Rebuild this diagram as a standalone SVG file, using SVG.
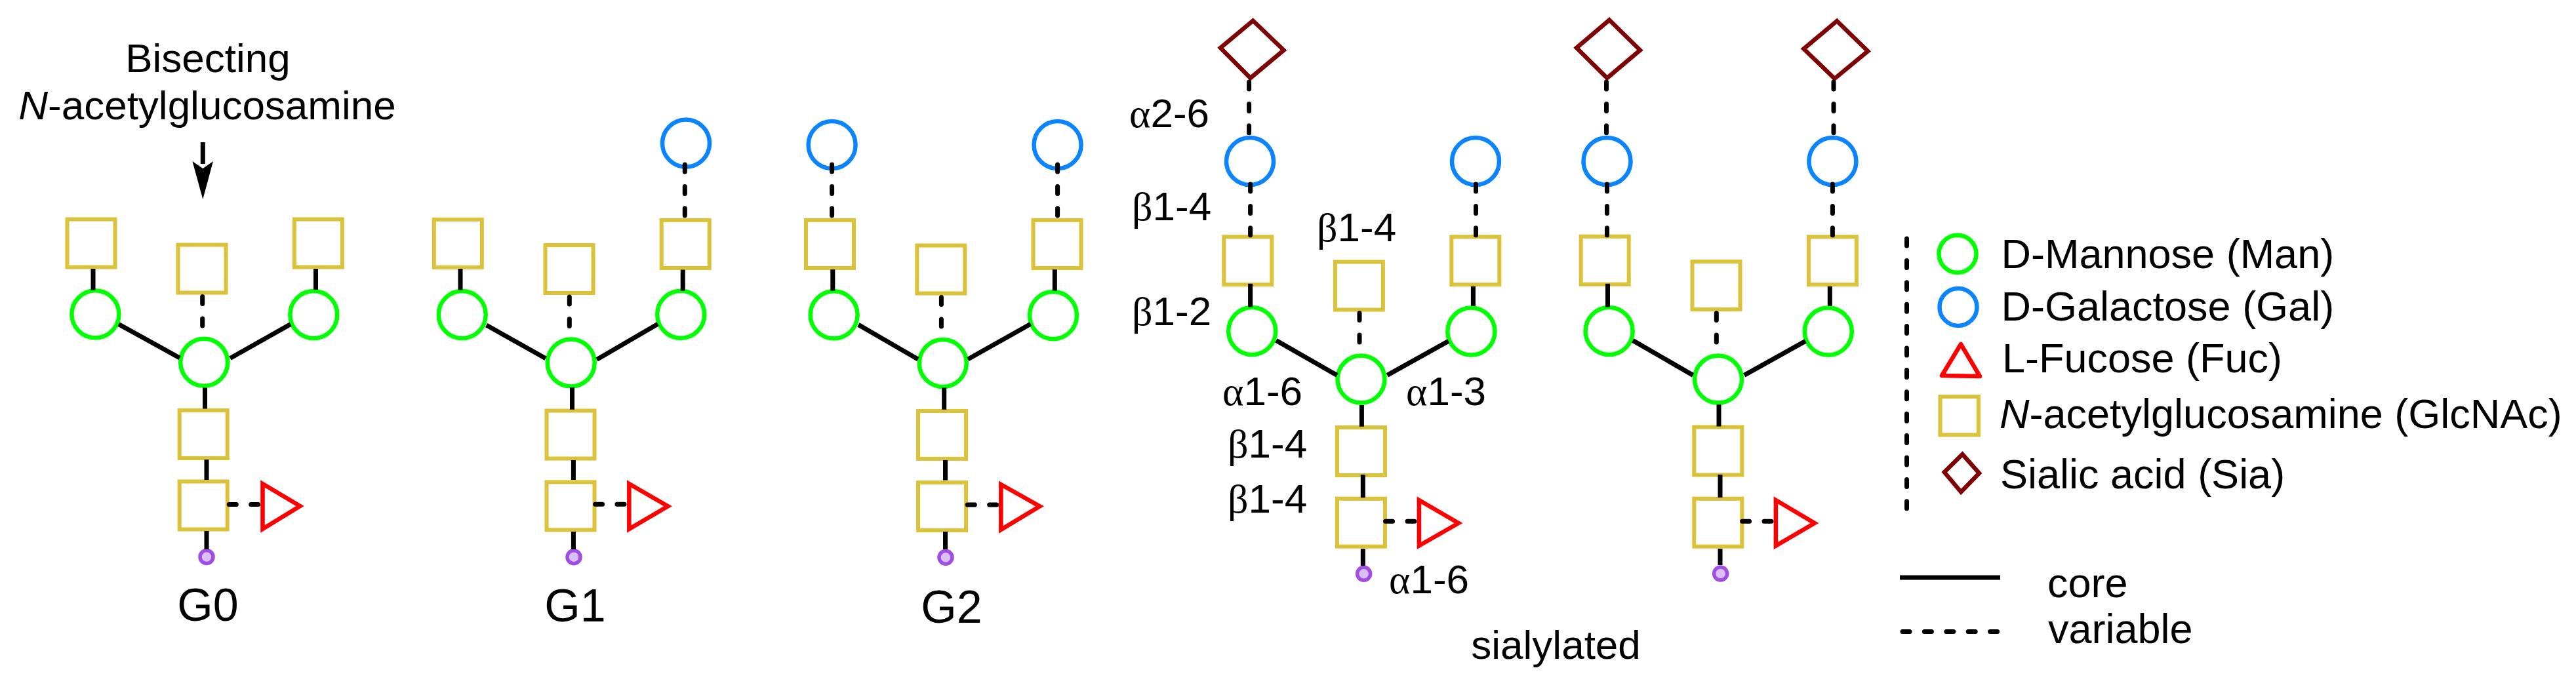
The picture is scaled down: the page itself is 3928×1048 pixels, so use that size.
<svg xmlns="http://www.w3.org/2000/svg" width="3928" height="1048" viewBox="0 0 3928 1048">
<style>
text{font-family:"Liberation Sans",Arial,sans-serif;font-size:62px;fill:#000}
.big{font-size:70px}
.lg{font-size:63px}
.gk{font-family:"Liberation Serif","Times New Roman",serif}
.m{text-anchor:middle}
.man,.gal,.glc,.fuc,.sia,.red{fill:none;stroke-width:6.5}
.man{stroke:#00ff00}
.gal{stroke:#0a84ff}
.glc{stroke:#dcc13a;stroke-width:6}
.fuc{stroke:#ff0000}
.sia{stroke:#7f0000}
.red{fill:#dcc0f5;stroke:#a04de8;stroke-width:5.5}
.core{stroke:#000;stroke-width:7;fill:none}
.var{stroke:#000;stroke-width:7;fill:none;stroke-linecap:round;stroke-dasharray:11 22.4}
</style>

<g id="g0">
<g id="g0-glc-tl"><rect class="glc" x="102.5" y="334.5" width="73" height="73"/></g>
<g id="g0-glc-bis"><rect class="glc" x="271.5" y="373.5" width="73" height="73"/></g>
<g id="g0-glc-tr"><rect class="glc" x="448.9" y="334.5" width="73" height="73"/></g>
<g id="g0-man-l"><circle class="man" cx="145.4" cy="479.3" r="36"/></g>
<g id="g0-man-m"><circle class="man" cx="311.2" cy="552.8" r="36"/></g>
<g id="g0-man-r"><circle class="man" cx="478.3" cy="480" r="36"/></g>
<g id="g0-glc-1"><rect class="glc" x="273.7" y="626" width="73" height="73"/></g>
<g id="g0-glc-2"><rect class="glc" x="273.7" y="734.5" width="73" height="73"/></g>
<g id="g0-fuc"><polygon class="fuc" points="400.5,738 457.5,772 400.5,807"/></g>
<g id="g0-red"><circle class="red" cx="315" cy="849.6" r="10"/></g>
</g>

<g id="g1">
<g id="g1-glc-tl"><rect class="glc" x="661.8" y="334.8" width="73" height="73"/></g>
<g id="g1-glc-bis"><rect class="glc" x="831.5" y="374" width="73" height="73"/></g>
<g id="g1-glc-tr"><rect class="glc" x="1008.7" y="335.9" width="73" height="73"/></g>
<g id="g1-gal"><circle class="gal" cx="1046" cy="218.5" r="36"/></g>
<g id="g1-man-l"><circle class="man" cx="704.7" cy="480" r="36"/></g>
<g id="g1-man-m"><circle class="man" cx="870.7" cy="553.4" r="36"/></g>
<g id="g1-man-r"><circle class="man" cx="1038.2" cy="479.7" r="36"/></g>
<g id="g1-glc-1"><rect class="glc" x="833.5" y="626.5" width="73" height="73"/></g>
<g id="g1-glc-2"><rect class="glc" x="833.5" y="735.4" width="73" height="73"/></g>
<g id="g1-fuc"><polygon class="fuc" points="959.3,738 1018.5,772.3 959.3,807"/></g>
<g id="g1-red"><circle class="red" cx="875" cy="849.7" r="10"/></g>
</g>

<g id="g2">
<g id="g2-gal-l"><circle class="gal" cx="1268.6" cy="221" r="36"/></g>
<g id="g2-gal-r"><circle class="gal" cx="1612.6" cy="221" r="36"/></g>
<g id="g2-glc-l"><rect class="glc" x="1229" y="335.9" width="73" height="73"/></g>
<g id="g2-glc-bis"><rect class="glc" x="1398.3" y="374.5" width="73" height="73"/></g>
<g id="g2-glc-r"><rect class="glc" x="1575.5" y="335.9" width="73" height="73"/></g>
<g id="g2-man-l"><circle class="man" cx="1271.6" cy="480.3" r="36"/></g>
<g id="g2-man-m"><circle class="man" cx="1437.8" cy="554" r="36"/></g>
<g id="g2-man-r"><circle class="man" cx="1606" cy="481" r="36"/></g>
<g id="g2-glc-1"><rect class="glc" x="1400.1" y="626.9" width="73" height="73"/></g>
<g id="g2-glc-2"><rect class="glc" x="1400.1" y="736" width="73" height="73"/></g>
<g id="g2-fuc"><polygon class="fuc" points="1526.3,739 1585.5,772.3 1526.3,808"/></g>
<g id="g2-red"><circle class="red" cx="1442" cy="850.3" r="10"/></g>
</g>

<g id="s1">
<g id="s1-sia-l"><polygon class="sia" points="1910.6,31.5 1957.5,76.5 1906.7,119 1861,73"/></g>
<g id="s1-gal-l"><circle class="gal" cx="1906" cy="246" r="36"/></g>
<g id="s1-gal-r"><circle class="gal" cx="2250" cy="246" r="36"/></g>
<g id="s1-glc-l"><rect class="glc" x="1866.3" y="361.2" width="73" height="73"/></g>
<g id="s1-glc-bis"><rect class="glc" x="2035.9" y="399.5" width="73" height="73"/></g>
<g id="s1-glc-r"><rect class="glc" x="2213.3" y="361.2" width="73" height="73"/></g>
<g id="s1-man-l"><circle class="man" cx="1909.2" cy="505" r="36"/></g>
<g id="s1-man-m"><circle class="man" cx="2075.5" cy="578.6" r="36"/></g>
<g id="s1-man-r"><circle class="man" cx="2243.4" cy="505.6" r="36"/></g>
<g id="s1-glc-1"><rect class="glc" x="2039" y="652" width="73" height="73"/></g>
<g id="s1-glc-2"><rect class="glc" x="2039" y="760.7" width="73" height="73"/></g>
<g id="s1-fuc"><polygon class="fuc" points="2163.9,763 2224,798 2163.9,832.5"/></g>
<g id="s1-red"><circle class="red" cx="2079.6" cy="875.3" r="10"/></g>
</g>

<g id="s2">
<g id="s2-sia-l"><polygon class="sia" points="2454,30.5 2500.9,76.5 2450.6,119 2404,73"/></g>
<g id="s2-sia-r"><polygon class="sia" points="2801,32 2848.2,78 2797.5,120 2750.4,74.5"/></g>
<g id="s2-gal-l"><circle class="gal" cx="2450.5" cy="246" r="36"/></g>
<g id="s2-gal-r"><circle class="gal" cx="2794.4" cy="246" r="36"/></g>
<g id="s2-glc-l"><rect class="glc" x="2410.7" y="360.7" width="73" height="73"/></g>
<g id="s2-glc-bis"><rect class="glc" x="2580.5" y="399" width="73" height="73"/></g>
<g id="s2-glc-r"><rect class="glc" x="2757.9" y="361.2" width="73" height="73"/></g>
<g id="s2-man-l"><circle class="man" cx="2453.6" cy="505" r="36"/></g>
<g id="s2-man-m"><circle class="man" cx="2620" cy="578.6" r="36"/></g>
<g id="s2-man-r"><circle class="man" cx="2787.8" cy="505.6" r="36"/></g>
<g id="s2-glc-1"><rect class="glc" x="2583.3" y="651.5" width="73" height="73"/></g>
<g id="s2-glc-2"><rect class="glc" x="2583.3" y="760.7" width="73" height="73"/></g>
<g id="s2-fuc"><polygon class="fuc" points="2707.9,763 2767,798 2707.9,832.5"/></g>
<g id="s2-red"><circle class="red" cx="2623.6" cy="875" r="10"/></g>
</g>

<g id="legend">
<g id="lg-man"><circle class="man" cx="2985" cy="387.3" r="28.5"/><text class="lg" x="3051.5" y="408.8">D-Mannose (Man)</text></g>
<g id="lg-gal"><circle class="gal" cx="2986" cy="468.4" r="28.5"/><text class="lg" x="3051.5" y="488.5">D-Galactose (Gal)</text></g>
<g id="lg-fuc"><polygon class="fuc" points="2990,525 2961,573 3019,574" stroke-linejoin="round"/><text class="lg" x="3053" y="568">L-Fucose (Fuc)</text></g>
<g id="lg-glc"><rect class="glc" x="2958.5" y="605" width="58.4" height="58.4"/><text class="lg" x="3049" y="653"><tspan font-style="italic">N</tspan>-acetylglucosamine (GlcNAc)</text></g>
<g id="lg-sia"><polygon class="sia" points="2992.4,693 3018,721.8 2990.2,750.5 2964.8,720.3"/><text class="lg" x="3050" y="744.7">Sialic acid (Sia)</text></g>
<g id="lg-core"><text class="lg" x="3122" y="910.7">core</text></g>
<g id="lg-var"><text class="lg" x="3123" y="981">variable</text></g>
</g>

<g id="connectors">
<path class="core" d="M142 410V442.5M481.5 410V442M181 494.6L274 546M443 494.6L351 546.5M312.5 591.6V623.6M315 701V732M315 810V838"/>
<path class="var" d="M308.7 452.5V500M349.3 769.4H397"/>
<path class="core" d="M702 410V442.5M1041.2 411.4V443.4M741.7 496L832 546.8M910 548.6L1003.1 494.2M872.5 591V624.8M874.4 702V732M874.4 811V838"/>
<path class="var" d="M868.3 453V499M907.6 769.3H956M1044.3 251V333"/>
<path class="core" d="M1269.8 411V443.4M1608.3 411V443.4M1309 495.4L1399.8 548M1476 548L1571.5 494.2M1439.7 591.5V624.8M1441.5 702V732.5M1441.5 811V838"/>
<path class="var" d="M1435.4 453.5V500M1475.3 770H1523M1268.6 251V334.6M1612.6 251V334.6"/>
<path class="core" d="M1906.6 432.7V468.4M2246.4 436.7V466.8M1946 519.4L2038.8 572.4M2115.3 572.4L2208.7 520.4M2076.4 618V650.7M2078.3 724V759.3M2078.3 837V863"/>
<path class="var" d="M1904.6 125V204M1906.6 281V360M2073 477.5V525.5M2250.5 281V360M2112.6 795.3H2160.6"/>
<path class="core" d="M2451.5 432.7V468.4M2790.3 436.7V466.8M2489.8 519.4L2581.6 572.4M2659.7 572.4L2753 520.4M2621 617V650.5M2623 724V759M2623 837V862"/>
<path class="var" d="M2449.5 125V204M2450.5 281V360M2617.3 477.5V525.5M2796 125V206.6M2794.4 281V360M2656.6 795.3H2704.6"/>
<path class="var" d="M2907.5 364V782"/>
<path class="var" d="M2901 963.6H3051"/>
<path class="core" d="M2897 881H3050"/>
<path class="core" d="M309.3 217V250"/>
<polygon points="293.4,246 309.3,257 325,246 309.3,304" fill="#000"/>
</g>

<text class="m" x="317" y="110">Bisecting</text>
<text class="m" x="316" y="182"><tspan font-style="italic">N</tspan>-acetylglucosamine</text>
<text class="m big" x="317" y="947">G0</text>
<text class="m big" x="877" y="948">G1</text>
<text class="m big" x="1451" y="950">G2</text>
<text x="1722" y="194"><tspan class="gk">α</tspan>2-6</text>
<text x="1726" y="336"><tspan class="gk">β</tspan>1-4</text>
<text x="2008" y="368.4"><tspan class="gk">β</tspan>1-4</text>
<text x="1726" y="496"><tspan class="gk">β</tspan>1-2</text>
<text x="1864" y="618"><tspan class="gk">α</tspan>1-6</text>
<text x="2144" y="618"><tspan class="gk">α</tspan>1-3</text>
<text x="1872" y="698"><tspan class="gk">β</tspan>1-4</text>
<text x="1872" y="782"><tspan class="gk">β</tspan>1-4</text>
<text x="2118" y="905"><tspan class="gk">α</tspan>1-6</text>
<text class="m" x="2372.6" y="1005">sialylated</text>
</svg>
